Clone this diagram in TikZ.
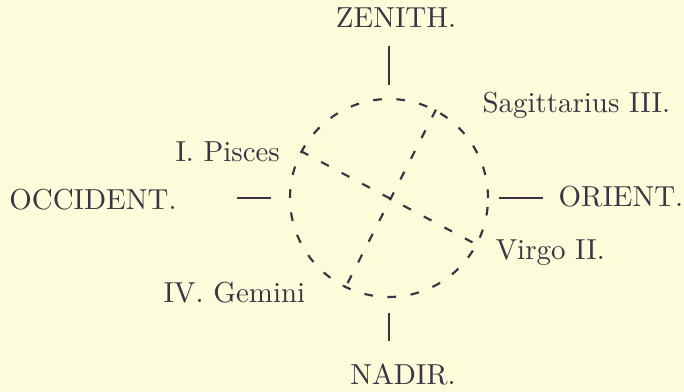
\documentclass[tikz,border=0pt]{standalone}
\usepackage{xcolor}
\usepackage{tikz}
\definecolor{paper}{HTML}{FCFBDA}
\definecolor{ink}{HTML}{3E3244}
\tikzset{
  rule/.style={draw=ink,line width=0.45pt},
  trace/.style={draw=ink,line width=0.8pt,dash pattern=on 3.2pt off 5.4pt},
  label/.style={inner sep=0pt,text=ink}
}

\begin{document}
\begin{tikzpicture}[x=0.013cm,y=-0.013cm, every node/.style={font=\fontsize{10.7}{12.8}\selectfont}]
  \fill[paper] (0,0) rectangle (684,392);
  % the sphere and its two diameters
  \node[trace,circle,minimum size=2.574cm,inner sep=0pt] (sphere) at (389,198) {};
  \draw[trace] (sphere.62) -- (sphere.244);
  \draw[trace] (sphere.152.5) -- (sphere.-28.5);
  % cardinal points
  \node[label,anchor=base] (zenith) at (396,28) {ZENITH.};
  \node[label,anchor=base] (nadir) at (403,385) {NADIR.};
  \node[label,anchor=base] (occident) at (93,210) {OCCIDENT.};
  \node[label,anchor=base] (orient) at (621,207) {ORIENT.};
  \draw[rule,shorten <=4.8pt,shorten >=6.3pt] (sphere.north) -- (sphere.north |- zenith.south);
  \draw[rule,shorten <=5.5pt,shorten >=8.5pt] (sphere.south) -- (sphere.south |- nadir.north);
  \draw[rule,shorten <=6.7pt,shorten >=22pt] (sphere.west) -- (sphere.west -| occident.east);
  \draw[rule,shorten <=3.7pt,shorten >=5.5pt] (sphere.east) -- (sphere.east -| orient.west);
  % signs at the ends of the diameters
  \node[label,anchor=base west] (sagittarius) at (482,113) {Sagittarius III.};
  \node[label,anchor=base west] (pisces) at (175,162) {I. Pisces};
  \node[label,anchor=base west] (virgo) at (495,260) {Virgo II.};
  \node[label,anchor=base west] (gemini) at (163,303) {IV. Gemini};
\end{tikzpicture}
\end{document}
